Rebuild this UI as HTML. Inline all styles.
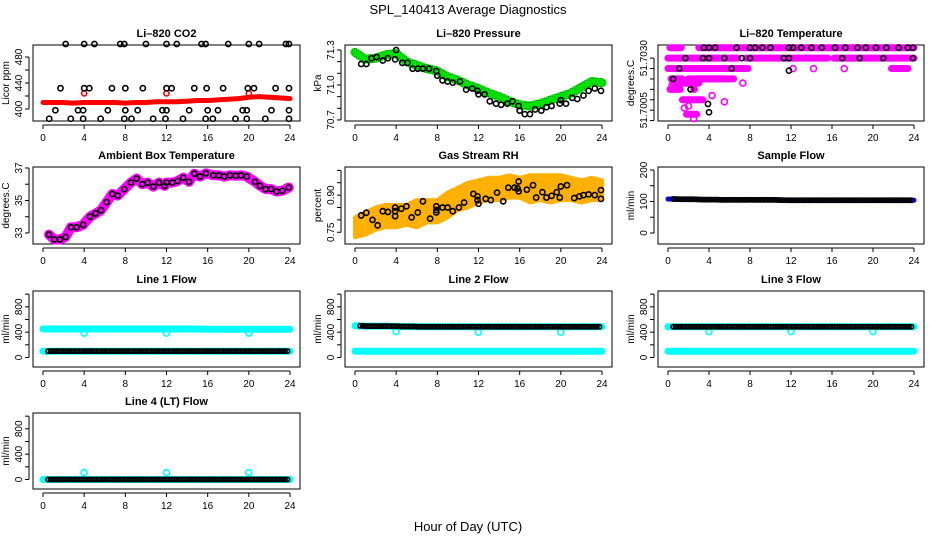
<!DOCTYPE html>
<html><head><meta charset="utf-8">
<style>
html,body{margin:0;padding:0;background:#fff;}
svg{display:block;font-family:"Liberation Sans",Arial,sans-serif;}
</style></head>
<body>
<svg id="chart" width="936" height="540" viewBox="0 0 936 540" xmlns="http://www.w3.org/2000/svg">
<defs>
<pattern id="grpat" width="2" height="2" patternUnits="userSpaceOnUse">
<rect width="2" height="2" fill="#00e600"/><rect width="1" height="1" fill="#008000"/>
</pattern>
</defs>
<text x="468" y="14" font-size="13" text-anchor="middle">SPL_140413  Average Diagnostics</text>
<text x="468" y="531" font-size="13" text-anchor="middle">Hour of Day (UTC)</text>
</svg>
<script>
// ---------- data ----------
const hours = [0,1,2,3,4,5,6,7,8,9,10,11,12,13,14,15,16,17,18,19,20,21,22,23,24];
const co2Red = [410,410,410,409,410,410,410,410,409,410,410,411,411,411,412,413,413,414,415,416,418,419,418,417,416];
const co2TopH = [2.2,4,5,7.5,7.9,10,12,13,15.4,15.8,18,20,21,23.6,23.9];
const co2MidH = [1.7,4,4.5,6.7,8,9.7,12,12.5,14.7,15.9,17.5,19.9,20.5,22.6,23.9];
const co2LowH = [1.2,3.4,3.9,6.3,8,9.2,11.6,12,14.2,16,17,19.4,19.8,22.2,23.9];
const co2BotH = [0.6,2.7,3.9,5.6,7.9,8.6,10.7,11.9,13.6,15.8,16.5,18.7,19.8,21.6,23.9];
const co2Levels = [500,432,398,385];
const co2RedCircH = [4,12,20];
const co2RedCircV = [424,424,424];

const presGreen = [71.28,71.22,71.23,71.26,71.27,71.2,71.17,71.14,71.12,71.07,71.04,71.0,70.97,70.93,70.9,70.86,70.83,70.82,70.84,70.87,70.9,70.93,70.98,71.03,71.02];
const presBlackH = [0.6,1.1,1.6,2.1,2.7,3.2,3.9,4.0,4.6,5.1,5.6,6.1,6.6,7.2,7.9,8.0,8.5,9.0,9.5,10.2,10.8,11.4,11.9,12.0,12.6,13.1,13.7,14.2,14.8,15.3,15.9,16.0,16.5,17.0,17.5,18.1,18.6,19.1,19.9,20.0,20.5,21.1,21.6,22.2,22.7,23.3,23.9];
const presBlackV = [71.18,71.18,71.23,71.24,71.21,71.23,71.22,71.3,71.19,71.19,71.14,71.14,71.14,71.14,71.12,71.08,71.04,71.03,71.02,71.03,70.96,70.97,70.95,70.92,70.92,70.86,70.84,70.83,70.84,70.86,70.82,70.78,70.75,70.75,70.79,70.78,70.81,70.82,70.84,70.87,70.84,70.89,70.88,70.91,70.95,70.97,70.95];

const tmpMagStart = [0.2,3.0,0.0,7.6,11.0,16.2,21.0,0.0,21.8,0.3,2.0,0.2,2.5,2.8,3.0,1.4,0.5,1.8];
const tmpMagEnd   = [1.3,24.0,6.8,10.8,15.6,20.8,24.0,7.8,23.4,1.4,6.4,1.2,2.6,5.5,3.4,3.0,3.0,2.8];
const tmpMagLev   = [51.7035,51.7035,51.7030,51.7030,51.7030,51.7030,51.7030,51.7025,51.7025,51.7020,51.7020,51.7015,51.7015,51.7020,51.7010,51.7010,51.7018,51.7003];
const tmpMagPtH = [12.2,14.2,17.2,7.3,5.5,4.3,2.0,2.5,0.4,1.6];
const tmpMagPtV = [51.7025,51.7025,51.7025,51.7018,51.7009,51.7012,51.7007,51.7001,51.7017,51.7006];
const tmpBlkH = [3.5,4,4.6,6.7,8,8.5,9.2,10,11.8,12.2,13,14,15,16.3,17.3,18.5,19.3,20.3,21.3,22.5,23.4,23.9,1.7,3.4,4,5.5,7.2,8,11.3,11.8,17,18.7,21,23.9,1.1,6.2,11.8,0.5,2.2,3.9,4];
const tmpBlkV = [51.7035,51.7035,51.7035,51.7035,51.7035,51.7035,51.7035,51.7035,51.7035,51.7035,51.7035,51.7035,51.7035,51.7035,51.7035,51.7035,51.7035,51.7035,51.7035,51.7035,51.7035,51.7035,51.7030,51.7030,51.7030,51.7030,51.7030,51.7030,51.7030,51.7030,51.7030,51.7030,51.7030,51.7030,51.7025,51.7025,51.7024,51.7020,51.7015,51.7008,51.7004];

const ambH = [0.58,1.1,1.65,2.2,2.72,3.27,3.9,4.57,5.12,5.64,6.19,6.74,7.26,7.9,8.55,9.1,9.65,10.17,10.72,11.27,11.82,12,12.57,13.09,13.63,14.19,14.7,15.26,15.84,16.55,17.1,17.62,18.17,18.73,19.24,19.8,20.6,21.09,21.64,22.16,22.71,23.26,23.88];
const ambV = [32.9,32.6,32.6,32.75,33.35,33.35,33.5,34.0,34.2,34.4,34.9,35.4,35.3,35.7,36.1,36.35,36.0,36.1,35.85,36.1,35.9,36.1,36.1,36.2,36.4,36.15,36.65,36.47,36.67,36.55,36.55,36.47,36.55,36.52,36.55,36.47,36.15,35.9,35.7,35.7,35.55,35.6,35.8];

const rhUpper = [0.81,0.83,0.85,0.86,0.86,0.86,0.88,0.88,0.88,0.91,0.93,0.95,0.96,0.97,0.97,0.98,0.97,0.98,0.98,0.98,0.98,0.97,0.96,0.97,0.96];
const rhLower = [0.73,0.74,0.76,0.77,0.77,0.78,0.77,0.79,0.79,0.81,0.84,0.85,0.87,0.88,0.88,0.89,0.89,0.87,0.88,0.87,0.88,0.88,0.87,0.88,0.88];
const rhBlkH = [0.6,1.1,1.7,2.2,2.7,3.2,3.9,3.9,3.9,4.5,5.0,5.5,6.1,6.6,7.3,7.9,7.9,7.9,8.5,9.0,9.5,10.1,10.6,11.5,11.9,11.9,12.0,12.7,13.2,13.8,14.4,14.9,15.5,15.8,15.9,15.9,16.7,17.3,17.6,18.2,18.6,19.1,19.6,19.9,20.0,20.6,21.3,21.8,22.2,22.7,23.3,23.9,23.9];
const rhBlkV = [0.818,0.829,0.80,0.778,0.835,0.832,0.835,0.85,0.815,0.845,0.855,0.81,0.83,0.875,0.805,0.855,0.84,0.83,0.85,0.85,0.835,0.85,0.87,0.905,0.895,0.88,0.865,0.885,0.88,0.91,0.875,0.93,0.93,0.927,0.955,0.915,0.922,0.94,0.89,0.912,0.89,0.897,0.912,0.89,0.935,0.94,0.888,0.895,0.9,0.903,0.9,0.92,0.885];

const flowSample = [108,107,107,106,106,105,105,105,105,105,105,104,104,104,104,104,104,104,104,104,104,104,104,104,104];
const line1Upper = [450,450,450,450,450,450,450,450,450,450,450,450,450,450,450,450,445,445,445,445,445,445,445,445,445];
const line1Lower = [100,100,100,100,100,100,100,100,100,100,100,100,100,100,100,100,100,100,100,100,100,100,100,100,100];
const line2Upper = [500,495,495,495,490,490,485,485,485,485,485,485,485,485,485,485,485,485,485,485,485,485,485,485,485];
const line2Lower = [100,100,100,100,100,100,100,100,100,100,100,100,100,100,100,100,100,100,100,100,100,100,100,100,100];
const line3Upper = [485,485,485,485,485,485,485,485,485,485,485,485,485,485,485,485,485,485,485,485,485,485,485,485,485];
const line3Lower = [100,100,100,100,100,100,100,100,100,100,100,100,100,100,100,100,100,100,100,100,100,100,100,100,100];
const line4Vals = [0,0,0,0,0,0,0,0,0,0,0,0,0,0,0,0,0,0,0,0,0,0,0,0,0];
const spikeH = [4,12,20];
const line1Spike = [385,385,385];
const line2Spike = [410,400,400];
const line3Spike = [410,410,410];
const line4Spike = [110,110,110];
const xTicks = [0,4,8,12,16,20,24];

// ---------- helpers ----------
const NS = 'http://www.w3.org/2000/svg';
const svg = document.getElementById('chart');
function el(tag, attrs, parent){
  const e = document.createElementNS(NS, tag);
  for (const k in attrs) e.setAttribute(k, attrs[k]);
  (parent || svg).appendChild(e);
  return e;
}
const cols = [{l:33,r:300},{l:345,r:612},{l:658,r:924}];
const rows = [{t:45,b:121},{t:167,b:244},{t:291,b:367},{t:413,b:489}];

function makePanel(name, title, col, row, ymin, ymax, yTicks, yLabels, ytitle){
  const c = cols[col], r = rows[row];
  const g = el('g', {});
  
  
  const x = h => c.l + 10 + h * (c.r - c.l - 20) / 24;
  const y = v => r.b - (v - ymin) / (ymax - ymin) * (r.b - r.t);
  const t = el('text', {x:(c.l+c.r)/2, y:r.t-8, 'font-size':11, 'font-weight':'bold', 'text-anchor':'middle'}, g);
  t.textContent = title;
  
  
  const box = el('rect', {x:c.l, y:r.t, width:c.r-c.l, height:r.b-r.t, fill:'none', stroke:'#000', 'stroke-width':1}, g);
  
  
  const xa = el('g', {}, g);
  
  
  el('line', {x1:x(0), x2:x(24), y1:r.b+4, y2:r.b+4, stroke:'#000'}, xa);
  xTicks.forEach(h => {
    el('line', {x1:x(h), x2:x(h), y1:r.b+4, y2:r.b+8, stroke:'#000'}, xa);
    const tl = el('text', {x:x(h), y:r.b+20, 'font-size':10, 'text-anchor':'middle'}, xa);
    tl.textContent = h;
  });
  const ya = el('g', {}, g);
  
  
  el('line', {x1:c.l-4, x2:c.l-4, y1:y(yTicks[0]), y2:y(yTicks[yTicks.length-1]), stroke:'#000'}, ya);
  yTicks.forEach(v => el('line', {x1:c.l-8, x2:c.l-4, y1:y(v), y2:y(v), stroke:'#000'}, ya));
  yLabels.forEach(v => {
    const tl = el('text', {x:0, y:0, 'font-size':10, 'text-anchor':'middle', transform:`translate(${c.l-11},${y(v)}) rotate(-90)`}, ya);
    tl.textContent = String(v);
  });
  const yt = el('text', {x:0, y:0, 'font-size':10, 'text-anchor':'middle', transform:`translate(${c.l-24},${(r.t+r.b)/2}) rotate(-90)`}, g);
  yt.textContent = ytitle;
  
  
  return {x, y, g};
}
function thickLine(p, hs, vs, color, w, name){
  const pts = hs.map((h,i) => p.x(h).toFixed(1) + ',' + p.y(vs[i]).toFixed(1)).join(' ');
  const pl = el('polyline', {points:pts, fill:'none', stroke:color, 'stroke-width':w, 'stroke-linecap':'round', 'stroke-linejoin':'round'}, p.g);
  
  
}
function circles(p, hs, vs, color, name, r){
  const gg = el('g', {}, p.g);
  
  
  hs.forEach((h,i) => el('circle', {cx:p.x(h), cy:p.y(vs[i]), r:r||2.6, fill:'none', stroke:color, 'stroke-width':1.6}, gg));
}
function denseBlack(p, vals, name){
  const hs = [], vs = [];
  for (let i = 0; i < hours.length - 1; i++){
    for (let k = 0; k < 4; k++){
      const h = hours[i] + 0.5 + k*0.25;
      if (h > 23.9) continue;
      hs.push(h); vs.push(vals[i] + (vals[i+1]-vals[i])*(k*0.25));
    }
  }
  circles(p, hs, vs, '#000', name, 2.2);
}

// ---------- Panel 1: CO2 ----------
let p = makePanel('co2', 'Li\u2013820 CO2', 0, 0, 381.5, 498.5, [400,420,440,460,480], [400,440,480], 'Licor ppm');
thickLine(p, hours, co2Red, '#ff0000', 5, 'co2-red-series');
circles(p, co2RedCircH, co2RedCircV, '#ff0000', 'co2-red-outliers');
[co2TopH, co2MidH, co2LowH, co2BotH].forEach((arr, i) => circles(p, arr, arr.map(() => co2Levels[i]), '#000', 'co2-black-points-' + i));

// ---------- Panel 2: Pressure ----------
p = makePanel('pressure', 'Li\u2013820 Pressure', 1, 0, 70.691, 71.343, [70.7,70.8,70.9,71.0,71.1,71.2,71.3], ['70.7','71.0','71.3'], 'kPa');
thickLine(p, hours, presGreen, 'url(#grpat)', 9, 'pressure-green-series');
thickLine(p, hours, presGreen, '#00e000', 5, 'pressure-green-core');
circles(p, presBlackH, presBlackV, '#000', 'pressure-black-points');

// ---------- Panel 3: Temperature ----------
p = makePanel('li820-temp', 'Li\u2013820 Temperature', 2, 0, 51.69998, 51.70363, [51.7000,51.7005,51.7010,51.7015,51.7020,51.7025,51.7030], ['51.7005','51.7030'], 'degrees.C');
tmpMagStart.forEach((s,i) => thickLine(p, [s, tmpMagEnd[i]], [tmpMagLev[i], tmpMagLev[i]], '#ff00ff', 7, 'temp-magenta-segment'));
circles(p, tmpMagPtH, tmpMagPtV, '#ff00ff', 'temp-magenta-points', 3);
circles(p, tmpBlkH, tmpBlkV, '#000', 'temp-black-points');

// ---------- Panel 4: Ambient ----------
p = makePanel('ambient', 'Ambient Box Temperature', 0, 1, 32.32, 37.06, [33,34,35,36,37], [33,35,37], 'degrees.C');
thickLine(p, ambH, ambV, '#ff00ff', 10, 'ambient-magenta-series');
circles(p, ambH, ambV, '#000', 'ambient-black-points');

// ---------- Panel 5: RH ----------
p = makePanel('rh', 'Gas Stream RH', 1, 1, 0.7026, 1.0135, [0.75,0.80,0.85,0.90,0.95,1.00], ['0.75','0.90'], 'percent');
{
  const up = hours.map((h,i) => p.x(h).toFixed(1) + ',' + p.y(rhUpper[i]).toFixed(1));
  const lo = hours.map((h,i) => p.x(h).toFixed(1) + ',' + p.y(rhLower[i]).toFixed(1)).reverse();
  const poly = el('polygon', {points: up.concat(lo).join(' '), fill:'#ffb000', stroke:'#ffb000', 'stroke-width':4, 'stroke-linejoin':'round'}, p.g);
  
  
}
circles(p, rhBlkH, rhBlkV, '#000', 'rh-black-points');

// ---------- Panel 6: Sample flow ----------
p = makePanel('sample-flow', 'Sample Flow', 2, 1, -34.9, 209.5, [0,50,100,150,200], [0,100,200], 'ml/min');
thickLine(p, hours, flowSample, '#0000ff', 5, 'sample-flow-blue-series');
denseBlack(p, flowSample, 'sample-flow-black-points');

// ---------- Line flows ----------
const lineTicks = [0,200,400,600,800,1000];
const lineLabels = [0,400,800];
p = makePanel('line1', 'Line 1 Flow', 0, 2, -150, 1050, lineTicks, lineLabels, 'ml/min');
thickLine(p, hours, line1Upper, '#00ffff', 7, 'line1-cyan-upper');
thickLine(p, hours, line1Lower, '#00ffff', 7, 'line1-cyan-lower');
circles(p, spikeH, line1Spike, '#00ffff', 'line1-cyan-outliers', 3);
denseBlack(p, line1Lower, 'line1-black-points');

p = makePanel('line2', 'Line 2 Flow', 1, 2, -150, 1050, lineTicks, lineLabels, 'ml/min');
thickLine(p, hours, line2Upper, '#00ffff', 7, 'line2-cyan-upper');
thickLine(p, hours, line2Lower, '#00ffff', 7, 'line2-cyan-lower');
circles(p, spikeH, line2Spike, '#00ffff', 'line2-cyan-outliers', 3);
denseBlack(p, line2Upper, 'line2-black-points');

p = makePanel('line3', 'Line 3 Flow', 2, 2, -150, 1050, lineTicks, lineLabels, 'ml/min');
thickLine(p, hours, line3Upper, '#00ffff', 7, 'line3-cyan-upper');
thickLine(p, hours, line3Lower, '#00ffff', 7, 'line3-cyan-lower');
circles(p, spikeH, line3Spike, '#00ffff', 'line3-cyan-outliers', 3);
denseBlack(p, line3Upper, 'line3-black-points');

p = makePanel('line4', 'Line 4 (LT) Flow', 0, 3, -150, 1050, lineTicks, lineLabels, 'ml/min');
thickLine(p, hours, line4Vals, '#00ffff', 7, 'line4-cyan-series');
circles(p, spikeH, line4Spike, '#00ffff', 'line4-cyan-outliers', 3);
denseBlack(p, line4Vals, 'line4-black-points');
</script>
</body></html>
